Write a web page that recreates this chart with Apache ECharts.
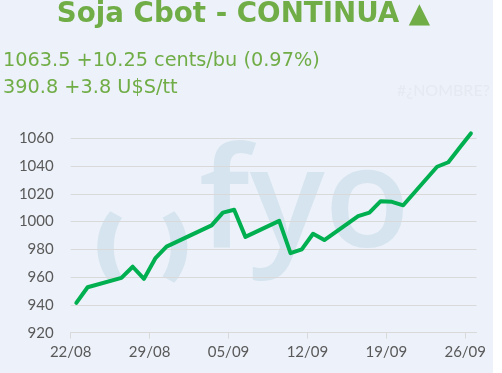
<!DOCTYPE html>
<html>
<head>
<meta charset="utf-8">
<script src="https://cdn.jsdelivr.net/npm/echarts@6/dist/echarts.min.js"></script>
<style>
  html, body { margin: 0; padding: 0; background: #ffffff; }
  #chart { width: 502px; height: 373px; background: linear-gradient(to right, #EDF1F9 0, #EDF1F9 493px, #ffffff 493px); }
</style>
</head>
<body>
<div id="chart"></div>
<script>
// ---- data ----
var titleText = 'Soja Cbot - CONTINUA \u25B2';
var priceLine = '1063.5 +10.25 cents/bu (0.97%)';
var tonLine = '390.8 +3.8 U$S/tt';
var errorText = '#\u00BFNOMBRE?';

var dates = [
  '2019-08-22','2019-08-23','2019-08-26','2019-08-27','2019-08-28','2019-08-29','2019-08-30',
  '2019-09-03','2019-09-04','2019-09-05','2019-09-06',
  '2019-09-09','2019-09-10','2019-09-11','2019-09-12','2019-09-13',
  '2019-09-16','2019-09-17','2019-09-18','2019-09-19','2019-09-20',
  '2019-09-23','2019-09-24','2019-09-25','2019-09-26'
];
var prices = [
  941.5, 952.75, 959.5, 967.5, 958.75, 973.5, 982,
  997.25, 1006.5, 1008.5, 989,
  1000.5, 977.25, 980, 991.25, 986.75,
  1004, 1006.5, 1014.75, 1014.25, 1011.75,
  1039.5, 1042.75, 1053.25, 1063.5
];
var xTickLabels = ['22/08','29/08','05/09','12/09','19/09','26/09'];
var yMin = 920, yMax = 1060, yStep = 20;

// ---- build ----
var startDate = Date.UTC(2019, 7, 22);
var DAY = 86400000;
function dayIndex(s) {
  var p = s.split('-');
  return (Date.UTC(+p[0], +p[1] - 1, +p[2]) - startDate) / DAY;
}
var seriesData = dates.map(function (d, i) { return [dayIndex(d) + 0.5, prices[i]]; });
var tickDays = xTickLabels.map(function (_, i) { return i * 7; });

var green = '#70AD47';
var wm = '#D5E4EF';

// watermark "( )" crescent shapes (logo decoration)
function crescent(side) {
  var cx = 142.3, cy = 247, pts = [], n = 24, span = 0.78, i, t;
  var base = side < 0 ? Math.PI : 0;
  for (i = 0; i <= n; i++) {
    t = base - span + (2 * span) * i / n;
    pts.push([cx + 45 * Math.cos(t), cy + 50.7 * Math.sin(t)]);
  }
  for (i = n; i >= 0; i--) {
    t = base - span + (2 * span) * i / n;
    pts.push([cx + 28.5 * Math.cos(t), cy + 41.7 * Math.sin(t)]);
  }
  return pts;
}

var chart = echarts.init(document.getElementById('chart'), null, { renderer: 'canvas' });
chart.setOption({
  backgroundColor: 'transparent',
  animation: false,
  grid: { left: 70.7, right: 25.5, top: 138.3, bottom: 40.3, containLabel: false },
  xAxis: {
    type: 'value',
    min: 0, max: 36, interval: 7,
    axisLine: { show: true, lineStyle: { color: '#D9D9D9', width: 1 } },
    axisTick: { show: true, customValues: tickDays, length: 6, lineStyle: { color: '#D9D9D9' } },
    axisLabel: {
      customValues: tickDays,
      margin: 12,
      color: '#595959',
      fontFamily: 'Lato',
      fontSize: 15,
      formatter: function (v) { var k = Math.round(v / 7); return xTickLabels[k] || ''; }
    },
    splitLine: { show: false }
  },
  yAxis: {
    type: 'value',
    min: yMin, max: yMax, interval: yStep,
    axisLine: { show: false },
    axisTick: { show: false },
    axisLabel: { margin: 17, color: '#595959', fontFamily: 'Lato', fontSize: 15,
      formatter: function (v) { return String(v); } },
    splitLine: { show: true, lineStyle: { color: '#D9D9D9', width: 1 } }
  },
  graphic: [
    { type: 'polygon', z: -5, silent: true, shape: { points: crescent(-1) }, style: { fill: wm } },
    { type: 'polygon', z: -5, silent: true, shape: { points: crescent(1) }, style: { fill: wm } },
    { type: 'text', z: -5, silent: true, x: 199, y: 207,
      style: { text: 'fyo', font: '600 140px "Open Sans"', fill: wm, align: 'left', verticalAlign: 'middle' } },
    { type: 'text', x: 243.5, y: 15,
      style: { text: titleText, font: 'bold 27.7px "DejaVu Sans"', fill: green, align: 'center', verticalAlign: 'middle' } },
    { type: 'text', x: 3, y: 61,
      style: { text: priceLine, font: '19.3px "DejaVu Sans"', fill: green, align: 'left', verticalAlign: 'middle' } },
    { type: 'text', x: 3, y: 88,
      style: { text: tonLine, font: '19.3px "DejaVu Sans"', fill: green, align: 'left', verticalAlign: 'middle' } },
    { type: 'text', x: 397, y: 91,
      style: { text: errorText, font: '16px Lato', fill: '#E5E9F1', align: 'left', verticalAlign: 'middle' } }
  ],
  series: [{
    type: 'line',
    data: seriesData,
    symbol: 'none',
    clip: false,
    z: 3,
    lineStyle: { color: '#00B050', width: 4, join: 'round', cap: 'round' }
  }]
});
</script>
</body>
</html>
